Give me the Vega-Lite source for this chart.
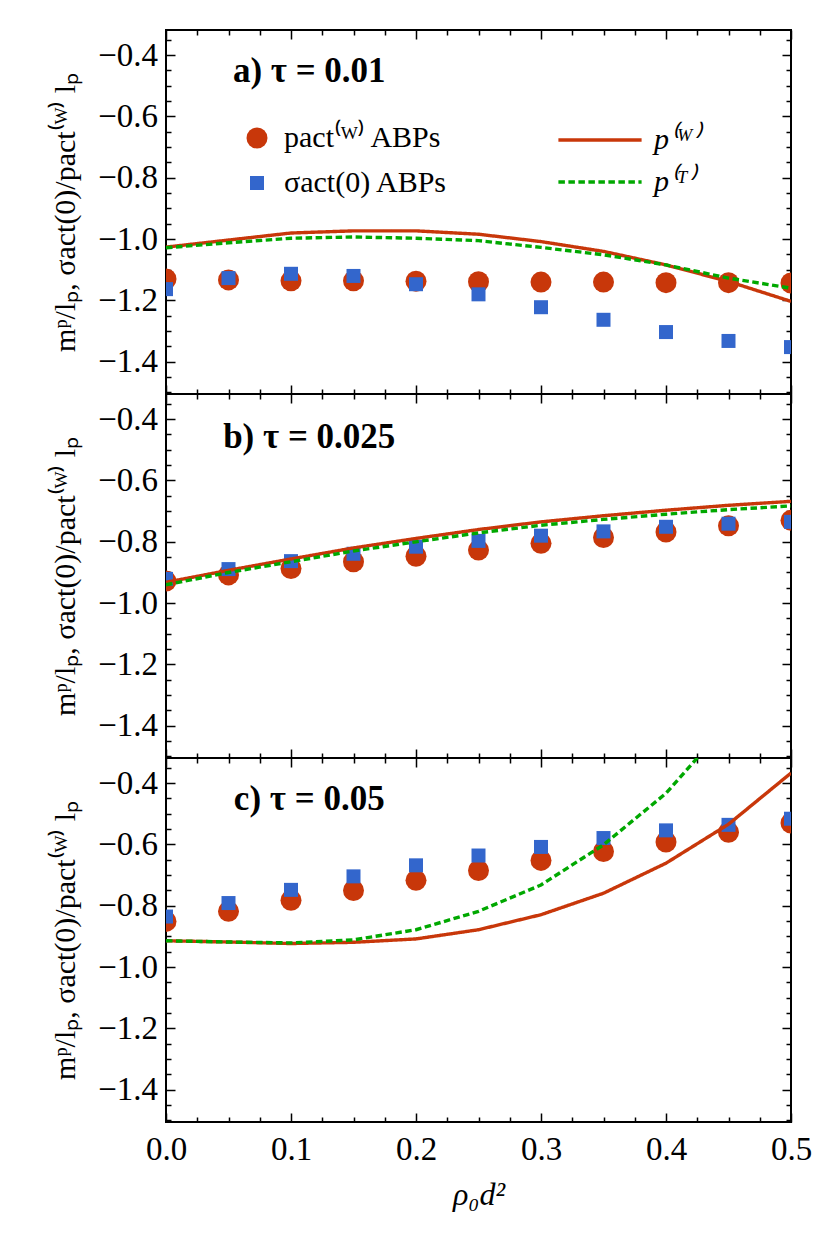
{
  "$schema": "https://vega.github.io/schema/vega-lite/v6.json",
  "autosize": {"type": "pad"},
  "padding": {"left": 49, "top": 22, "right": 40, "bottom": 20},
  "background": "white",
  "spacing": 0,
  "bounds": "flush",
  "config": {
    "view": {"stroke": "black", "strokeWidth": 2},
    "font": "Liberation Serif",
    "axis": {"domain": false, "grid": false, "tickColor": "black", "tickWidth": 1.5, "labelColor": "black", "titleColor": "black", "labelFont": "Liberation Serif", "titleFont": "Liberation Serif", "labelFontSize": 33, "titleFontSize": 30, "titleFontWeight": "normal", "labelFlush": false, "labelOverlap": false, "labelBound": false},
    "axisY": {"tickDash": {"condition": {"test": "round(abs(datum.value)*100) % 20 == 0", "value": [1, 0]}, "value": [5, 30]}},
    "axisX": {"tickDash": {"condition": {"test": "round(datum.value*1000) % 100 == 0", "value": [1, 0]}, "value": [5, 30]}},
    "legend": {"labelFont": "Liberation Serif", "labelColor": "black", "labelLimit": 0}
  },
  "datasets": {
    "pts": [
      {"panel": "a", "pt": "pact", "x": 0, "y": -1.130}, {"panel": "a", "pt": "pact", "x": 0.05, "y": -1.133}, {"panel": "a", "pt": "pact", "x": 0.1, "y": -1.136}, {"panel": "a", "pt": "pact", "x": 0.15, "y": -1.136}, {"panel": "a", "pt": "pact", "x": 0.2, "y": -1.137}, {"panel": "a", "pt": "pact", "x": 0.25, "y": -1.139}, {"panel": "a", "pt": "pact", "x": 0.3, "y": -1.140}, {"panel": "a", "pt": "pact", "x": 0.35, "y": -1.140}, {"panel": "a", "pt": "pact", "x": 0.4, "y": -1.142}, {"panel": "a", "pt": "pact", "x": 0.45, "y": -1.142}, {"panel": "a", "pt": "pact", "x": 0.5, "y": -1.143},
      {"panel": "a", "pt": "sigma", "x": 0, "y": -1.163}, {"panel": "a", "pt": "sigma", "x": 0.05, "y": -1.127}, {"panel": "a", "pt": "sigma", "x": 0.1, "y": -1.113}, {"panel": "a", "pt": "sigma", "x": 0.15, "y": -1.120}, {"panel": "a", "pt": "sigma", "x": 0.2, "y": -1.147}, {"panel": "a", "pt": "sigma", "x": 0.25, "y": -1.180}, {"panel": "a", "pt": "sigma", "x": 0.3, "y": -1.222}, {"panel": "a", "pt": "sigma", "x": 0.35, "y": -1.263}, {"panel": "a", "pt": "sigma", "x": 0.4, "y": -1.303}, {"panel": "a", "pt": "sigma", "x": 0.45, "y": -1.332}, {"panel": "a", "pt": "sigma", "x": 0.5, "y": -1.352},
      {"panel": "b", "pt": "pact", "x": 0, "y": -0.928}, {"panel": "b", "pt": "pact", "x": 0.05, "y": -0.908}, {"panel": "b", "pt": "pact", "x": 0.1, "y": -0.887}, {"panel": "b", "pt": "pact", "x": 0.15, "y": -0.865}, {"panel": "b", "pt": "pact", "x": 0.2, "y": -0.847}, {"panel": "b", "pt": "pact", "x": 0.25, "y": -0.827}, {"panel": "b", "pt": "pact", "x": 0.3, "y": -0.805}, {"panel": "b", "pt": "pact", "x": 0.35, "y": -0.786}, {"panel": "b", "pt": "pact", "x": 0.4, "y": -0.768}, {"panel": "b", "pt": "pact", "x": 0.45, "y": -0.748}, {"panel": "b", "pt": "pact", "x": 0.5, "y": -0.730},
      {"panel": "b", "pt": "sigma", "x": 0, "y": -0.921}, {"panel": "b", "pt": "sigma", "x": 0.05, "y": -0.889}, {"panel": "b", "pt": "sigma", "x": 0.1, "y": -0.863}, {"panel": "b", "pt": "sigma", "x": 0.15, "y": -0.839}, {"panel": "b", "pt": "sigma", "x": 0.2, "y": -0.816}, {"panel": "b", "pt": "sigma", "x": 0.25, "y": -0.797}, {"panel": "b", "pt": "sigma", "x": 0.3, "y": -0.780}, {"panel": "b", "pt": "sigma", "x": 0.35, "y": -0.766}, {"panel": "b", "pt": "sigma", "x": 0.4, "y": -0.751}, {"panel": "b", "pt": "sigma", "x": 0.45, "y": -0.741}, {"panel": "b", "pt": "sigma", "x": 0.5, "y": -0.735},
      {"panel": "c", "pt": "pact", "x": 0, "y": -0.851}, {"panel": "c", "pt": "pact", "x": 0.05, "y": -0.818}, {"panel": "c", "pt": "pact", "x": 0.1, "y": -0.782}, {"panel": "c", "pt": "pact", "x": 0.15, "y": -0.750}, {"panel": "c", "pt": "pact", "x": 0.2, "y": -0.717}, {"panel": "c", "pt": "pact", "x": 0.25, "y": -0.685}, {"panel": "c", "pt": "pact", "x": 0.3, "y": -0.652}, {"panel": "c", "pt": "pact", "x": 0.35, "y": -0.623}, {"panel": "c", "pt": "pact", "x": 0.4, "y": -0.592}, {"panel": "c", "pt": "pact", "x": 0.45, "y": -0.560}, {"panel": "c", "pt": "pact", "x": 0.5, "y": -0.530},
      {"panel": "c", "pt": "sigma", "x": 0, "y": -0.835}, {"panel": "c", "pt": "sigma", "x": 0.05, "y": -0.791}, {"panel": "c", "pt": "sigma", "x": 0.1, "y": -0.748}, {"panel": "c", "pt": "sigma", "x": 0.15, "y": -0.704}, {"panel": "c", "pt": "sigma", "x": 0.2, "y": -0.668}, {"panel": "c", "pt": "sigma", "x": 0.25, "y": -0.636}, {"panel": "c", "pt": "sigma", "x": 0.3, "y": -0.608}, {"panel": "c", "pt": "sigma", "x": 0.35, "y": -0.579}, {"panel": "c", "pt": "sigma", "x": 0.4, "y": -0.554}, {"panel": "c", "pt": "sigma", "x": 0.45, "y": -0.536}, {"panel": "c", "pt": "sigma", "x": 0.5, "y": -0.516}
    ],
    "lines": [
      {"panel": "a", "ln": "W", "x": 0, "y": -1.026}, {"panel": "a", "ln": "W", "x": 0.05, "y": -1.003}, {"panel": "a", "ln": "W", "x": 0.1, "y": -0.980}, {"panel": "a", "ln": "W", "x": 0.15, "y": -0.973}, {"panel": "a", "ln": "W", "x": 0.2, "y": -0.973}, {"panel": "a", "ln": "W", "x": 0.25, "y": -0.984}, {"panel": "a", "ln": "W", "x": 0.3, "y": -1.008}, {"panel": "a", "ln": "W", "x": 0.35, "y": -1.040}, {"panel": "a", "ln": "W", "x": 0.4, "y": -1.084}, {"panel": "a", "ln": "W", "x": 0.45, "y": -1.138}, {"panel": "a", "ln": "W", "x": 0.5, "y": -1.203},
      {"panel": "a", "ln": "T", "x": 0, "y": -1.028}, {"panel": "a", "ln": "T", "x": 0.05, "y": -1.012}, {"panel": "a", "ln": "T", "x": 0.1, "y": -0.997}, {"panel": "a", "ln": "T", "x": 0.15, "y": -0.993}, {"panel": "a", "ln": "T", "x": 0.2, "y": -0.997}, {"panel": "a", "ln": "T", "x": 0.25, "y": -1.005}, {"panel": "a", "ln": "T", "x": 0.3, "y": -1.027}, {"panel": "a", "ln": "T", "x": 0.35, "y": -1.051}, {"panel": "a", "ln": "T", "x": 0.4, "y": -1.084}, {"panel": "a", "ln": "T", "x": 0.45, "y": -1.127}, {"panel": "a", "ln": "T", "x": 0.5, "y": -1.160},
      {"panel": "b", "ln": "W", "x": 0, "y": -0.932}, {"panel": "b", "ln": "W", "x": 0.05, "y": -0.893}, {"panel": "b", "ln": "W", "x": 0.1, "y": -0.856}, {"panel": "b", "ln": "W", "x": 0.15, "y": -0.820}, {"panel": "b", "ln": "W", "x": 0.2, "y": -0.789}, {"panel": "b", "ln": "W", "x": 0.25, "y": -0.760}, {"panel": "b", "ln": "W", "x": 0.3, "y": -0.735}, {"panel": "b", "ln": "W", "x": 0.35, "y": -0.715}, {"panel": "b", "ln": "W", "x": 0.4, "y": -0.697}, {"panel": "b", "ln": "W", "x": 0.45, "y": -0.681}, {"panel": "b", "ln": "W", "x": 0.5, "y": -0.668},
      {"panel": "b", "ln": "T", "x": 0, "y": -0.940}, {"panel": "b", "ln": "T", "x": 0.05, "y": -0.900}, {"panel": "b", "ln": "T", "x": 0.1, "y": -0.865}, {"panel": "b", "ln": "T", "x": 0.15, "y": -0.830}, {"panel": "b", "ln": "T", "x": 0.2, "y": -0.800}, {"panel": "b", "ln": "T", "x": 0.25, "y": -0.771}, {"panel": "b", "ln": "T", "x": 0.3, "y": -0.746}, {"panel": "b", "ln": "T", "x": 0.35, "y": -0.727}, {"panel": "b", "ln": "T", "x": 0.4, "y": -0.710}, {"panel": "b", "ln": "T", "x": 0.45, "y": -0.695}, {"panel": "b", "ln": "T", "x": 0.5, "y": -0.683},
      {"panel": "c", "ln": "W", "x": 0, "y": -0.914}, {"panel": "c", "ln": "W", "x": 0.05, "y": -0.918}, {"panel": "c", "ln": "W", "x": 0.1, "y": -0.923}, {"panel": "c", "ln": "W", "x": 0.15, "y": -0.919}, {"panel": "c", "ln": "W", "x": 0.2, "y": -0.908}, {"panel": "c", "ln": "W", "x": 0.25, "y": -0.878}, {"panel": "c", "ln": "W", "x": 0.3, "y": -0.829}, {"panel": "c", "ln": "W", "x": 0.35, "y": -0.759}, {"panel": "c", "ln": "W", "x": 0.4, "y": -0.661}, {"panel": "c", "ln": "W", "x": 0.45, "y": -0.534}, {"panel": "c", "ln": "W", "x": 0.5, "y": -0.367},
      {"panel": "c", "ln": "T", "x": 0, "y": -0.914}, {"panel": "c", "ln": "T", "x": 0.05, "y": -0.918}, {"panel": "c", "ln": "T", "x": 0.1, "y": -0.921}, {"panel": "c", "ln": "T", "x": 0.15, "y": -0.911}, {"panel": "c", "ln": "T", "x": 0.2, "y": -0.878}, {"panel": "c", "ln": "T", "x": 0.25, "y": -0.818}, {"panel": "c", "ln": "T", "x": 0.3, "y": -0.732}, {"panel": "c", "ln": "T", "x": 0.35, "y": -0.601}, {"panel": "c", "ln": "T", "x": 0.4, "y": -0.433}, {"panel": "c", "ln": "T", "x": 0.45, "y": -0.203}, {"panel": "c", "ln": "T", "x": 0.5, "y": 0.08}
    ]
  },
  "resolve": {"scale": {"fill": "independent", "shape": "independent", "size": "independent", "stroke": "independent", "strokeDash": "independent"}},
  "vconcat": [
    {
      "width": 625, "height": 364,
      "layer": [
        {
          "data": {"name": "pts"},
          "transform": [{"filter": "datum.panel == 'a'"}],
          "mark": {"type": "point", "filled": true, "opacity": 1, "clip": true, "strokeWidth": 0},
          "encoding": {
            "x": {"field": "x", "type": "quantitative", "scale": {"domain": [0, 0.5], "nice": false, "zero": false},
              "axis": {"orient": "bottom", "values": [0,0.025,0.05,0.075,0.1,0.125,0.15,0.175,0.2,0.225,0.25,0.275,0.3,0.325,0.35,0.375,0.4,0.425,0.45,0.475,0.5], "tickSize": -9, "labels": false, "title": null}},
            "y": {"field": "y", "type": "quantitative", "scale": {"domain": [-1.505, -0.318], "nice": false, "zero": false},
              "axis": {"orient": "left", "values": [-1.5,-1.45,-1.4,-1.35,-1.3,-1.25,-1.2,-1.15,-1.1,-1.05,-1,-0.95,-0.9,-0.85,-0.8,-0.75,-0.7,-0.65,-0.6,-0.55,-0.5,-0.45,-0.4,-0.35], "tickSize": -9, "labelExpr": "round(abs(datum.value)*100) % 20 == 0 ? format(datum.value, '.1f') : ''", "labelPadding": 17.5, "title": "mᵖ/lₚ,  σact(0)/pact⁽ᵂ⁾ lₚ", "titlePadding": 17}},
            "fill": {"field": "pt", "type": "nominal", "scale": {"domain": ["pact", "sigma"], "range": ["#c8370a", "#3366cc"]},
              "legend": {"orient": "none", "legendX": 76, "legendY": 93, "direction": "vertical", "title": null, "padding": 0, "labelExpr": "datum.label == 'pact' ? 'pact⁽ᵂ⁾ ABPs' : 'σact(0) ABPs'", "labelFontSize": 30, "labelOffset": 12, "rowPadding": 15}},
            "shape": {"field": "pt", "type": "nominal", "scale": {"domain": ["pact", "sigma"], "range": ["circle", "square"]},
              "legend": {"orient": "none", "legendX": 76, "legendY": 93, "direction": "vertical", "title": null, "padding": 0, "labelExpr": "datum.label == 'pact' ? 'pact⁽ᵂ⁾ ABPs' : 'σact(0) ABPs'", "labelFontSize": 30, "labelOffset": 12, "rowPadding": 15}},
            "size": {"field": "pt", "type": "nominal", "scale": {"type": "point", "domain": ["pact", "sigma"], "range": [441, 196]},
              "legend": {"orient": "none", "legendX": 76, "legendY": 93, "direction": "vertical", "title": null, "padding": 0, "labelExpr": "datum.label == 'pact' ? 'pact⁽ᵂ⁾ ABPs' : 'σact(0) ABPs'", "labelFontSize": 30, "labelOffset": 12, "rowPadding": 15}}
          }
        },
        {
          "data": {"name": "lines"},
          "transform": [{"filter": "datum.panel == 'a'"}],
          "mark": {"type": "line", "clip": true, "strokeWidth": 3.4},
          "encoding": {
            "x": {"field": "x", "type": "quantitative", "scale": {"domain": [0, 0.5], "nice": false, "zero": false},
              "axis": {"orient": "top", "values": [0,0.025,0.05,0.075,0.1,0.125,0.15,0.175,0.2,0.225,0.25,0.275,0.3,0.325,0.35,0.375,0.4,0.425,0.45,0.475,0.5], "tickSize": -9, "labels": false, "title": null}},
            "y": {"field": "y", "type": "quantitative", "scale": {"domain": [-1.505, -0.318], "nice": false, "zero": false},
              "axis": {"orient": "right", "values": [-1.5,-1.45,-1.4,-1.35,-1.3,-1.25,-1.2,-1.15,-1.1,-1.05,-1,-0.95,-0.9,-0.85,-0.8,-0.75,-0.7,-0.65,-0.6,-0.55,-0.5,-0.45,-0.4,-0.35], "tickSize": -9, "labels": false, "title": null}},
            "stroke": {"field": "ln", "type": "nominal", "scale": {"domain": ["W", "T"], "range": ["#c8370a", "#00a800"]},
              "legend": {"orient": "none", "legendX": 416, "legendY": 92, "direction": "vertical", "title": null, "padding": 0, "symbolType": "M-2.6,0H2.6", "symbolSize": 1024, "symbolStrokeWidth": 3.6, "labelExpr": "datum.label == 'W' ? 'p⁽ᵂ⁾' : 'p⁽ᵀ⁾'", "labelFontSize": 30, "labelFontStyle": "italic", "labelOffset": 36, "rowPadding": 9}},
            "strokeDash": {"field": "ln", "type": "nominal", "scale": {"domain": ["W", "T"], "range": [[1, 0], [6.5, 3.5]]},
              "legend": {"orient": "none", "legendX": 416, "legendY": 92, "direction": "vertical", "title": null, "padding": 0, "symbolType": "M-2.6,0H2.6", "symbolSize": 1024, "symbolStrokeWidth": 3.6, "labelExpr": "datum.label == 'W' ? 'p⁽ᵂ⁾' : 'p⁽ᵀ⁾'", "labelFontSize": 30, "labelFontStyle": "italic", "labelOffset": 36, "rowPadding": 9}}
          }
        },
        {
          "data": {"values": [{}]},
          "mark": {"type": "text", "font": "Liberation Serif", "fontSize": 35, "fontWeight": "bold", "align": "center", "baseline": "alphabetic", "color": "black"},
          "encoding": {
            "x": {"datum": 0.1146, "type": "quantitative", "axis": null},
            "y": {"datum": -0.4875, "type": "quantitative", "axis": null},
            "text": {"value": "a)  τ = 0.01"}
          }
        }
      ],
      "resolve": {"axis": {"x": "independent", "y": "independent"}}
    },
    {
      "width": 625, "height": 364,
      "layer": [
        {
          "data": {"name": "pts"},
          "transform": [{"filter": "datum.panel == 'b'"}],
          "mark": {"type": "point", "filled": true, "opacity": 1, "clip": true, "strokeWidth": 0},
          "encoding": {
            "x": {"field": "x", "type": "quantitative", "scale": {"domain": [0, 0.5], "nice": false, "zero": false},
              "axis": {"orient": "bottom", "values": [0,0.025,0.05,0.075,0.1,0.125,0.15,0.175,0.2,0.225,0.25,0.275,0.3,0.325,0.35,0.375,0.4,0.425,0.45,0.475,0.5], "tickSize": -9, "labels": false, "title": null}},
            "y": {"field": "y", "type": "quantitative", "scale": {"domain": [-1.505, -0.318], "nice": false, "zero": false},
              "axis": {"orient": "left", "values": [-1.5,-1.45,-1.4,-1.35,-1.3,-1.25,-1.2,-1.15,-1.1,-1.05,-1,-0.95,-0.9,-0.85,-0.8,-0.75,-0.7,-0.65,-0.6,-0.55,-0.5,-0.45,-0.4,-0.35], "tickSize": -9, "labelExpr": "round(abs(datum.value)*100) % 20 == 0 ? format(datum.value, '.1f') : ''", "labelPadding": 17.5, "title": "mᵖ/lₚ,  σact(0)/pact⁽ᵂ⁾ lₚ", "titlePadding": 17}},
            "fill": {"field": "pt", "type": "nominal", "scale": {"domain": ["pact", "sigma"], "range": ["#c8370a", "#3366cc"]}, "legend": null},
            "shape": {"field": "pt", "type": "nominal", "scale": {"domain": ["pact", "sigma"], "range": ["circle", "square"]}, "legend": null},
            "size": {"field": "pt", "type": "nominal", "scale": {"type": "point", "domain": ["pact", "sigma"], "range": [441, 196]}, "legend": null}
          }
        },
        {
          "data": {"name": "lines"},
          "transform": [{"filter": "datum.panel == 'b'"}],
          "mark": {"type": "line", "clip": true, "strokeWidth": 3.4},
          "encoding": {
            "x": {"field": "x", "type": "quantitative", "scale": {"domain": [0, 0.5], "nice": false, "zero": false},
              "axis": {"orient": "top", "values": [0,0.025,0.05,0.075,0.1,0.125,0.15,0.175,0.2,0.225,0.25,0.275,0.3,0.325,0.35,0.375,0.4,0.425,0.45,0.475,0.5], "tickSize": -9, "labels": false, "title": null}},
            "y": {"field": "y", "type": "quantitative", "scale": {"domain": [-1.505, -0.318], "nice": false, "zero": false},
              "axis": {"orient": "right", "values": [-1.5,-1.45,-1.4,-1.35,-1.3,-1.25,-1.2,-1.15,-1.1,-1.05,-1,-0.95,-0.9,-0.85,-0.8,-0.75,-0.7,-0.65,-0.6,-0.55,-0.5,-0.45,-0.4,-0.35], "tickSize": -9, "labels": false, "title": null}},
            "stroke": {"field": "ln", "type": "nominal", "scale": {"domain": ["W", "T"], "range": ["#c8370a", "#00a800"]}, "legend": null},
            "strokeDash": {"field": "ln", "type": "nominal", "scale": {"domain": ["W", "T"], "range": [[1, 0], [6.5, 3.5]]}, "legend": null}
          }
        },
        {
          "data": {"values": [{}]},
          "mark": {"type": "text", "font": "Liberation Serif", "fontSize": 35, "fontWeight": "bold", "align": "center", "baseline": "alphabetic", "color": "black"},
          "encoding": {
            "x": {"datum": 0.1146, "type": "quantitative", "axis": null},
            "y": {"datum": -0.494, "type": "quantitative", "axis": null},
            "text": {"value": "b)  τ = 0.025"}
          }
        }
      ],
      "resolve": {"axis": {"x": "independent", "y": "independent"}}
    },
    {
      "width": 625, "height": 364,
      "layer": [
        {
          "data": {"name": "pts"},
          "transform": [{"filter": "datum.panel == 'c'"}],
          "mark": {"type": "point", "filled": true, "opacity": 1, "clip": true, "strokeWidth": 0},
          "encoding": {
            "x": {"field": "x", "type": "quantitative", "scale": {"domain": [0, 0.5], "nice": false, "zero": false},
              "axis": {"orient": "bottom", "values": [0,0.025,0.05,0.075,0.1,0.125,0.15,0.175,0.2,0.225,0.25,0.275,0.3,0.325,0.35,0.375,0.4,0.425,0.45,0.475,0.5], "tickSize": -9, "labelExpr": "round(datum.value*1000) % 100 == 0 ? format(datum.value, '.1f') : ''", "labelPadding": 20, "title": "ρ₀d²", "titleFontStyle": "italic", "titleFontSize": 32, "titlePadding": 13}},
            "y": {"field": "y", "type": "quantitative", "scale": {"domain": [-1.505, -0.318], "nice": false, "zero": false},
              "axis": {"orient": "left", "values": [-1.5,-1.45,-1.4,-1.35,-1.3,-1.25,-1.2,-1.15,-1.1,-1.05,-1,-0.95,-0.9,-0.85,-0.8,-0.75,-0.7,-0.65,-0.6,-0.55,-0.5,-0.45,-0.4,-0.35], "tickSize": -9, "labelExpr": "round(abs(datum.value)*100) % 20 == 0 ? format(datum.value, '.1f') : ''", "labelPadding": 17.5, "title": "mᵖ/lₚ,  σact(0)/pact⁽ᵂ⁾ lₚ", "titlePadding": 17}},
            "fill": {"field": "pt", "type": "nominal", "scale": {"domain": ["pact", "sigma"], "range": ["#c8370a", "#3366cc"]}, "legend": null},
            "shape": {"field": "pt", "type": "nominal", "scale": {"domain": ["pact", "sigma"], "range": ["circle", "square"]}, "legend": null},
            "size": {"field": "pt", "type": "nominal", "scale": {"type": "point", "domain": ["pact", "sigma"], "range": [441, 196]}, "legend": null}
          }
        },
        {
          "data": {"name": "lines"},
          "transform": [{"filter": "datum.panel == 'c'"}],
          "mark": {"type": "line", "clip": true, "strokeWidth": 3.4},
          "encoding": {
            "x": {"field": "x", "type": "quantitative", "scale": {"domain": [0, 0.5], "nice": false, "zero": false},
              "axis": {"orient": "top", "values": [0,0.025,0.05,0.075,0.1,0.125,0.15,0.175,0.2,0.225,0.25,0.275,0.3,0.325,0.35,0.375,0.4,0.425,0.45,0.475,0.5], "tickSize": -9, "labels": false, "title": null}},
            "y": {"field": "y", "type": "quantitative", "scale": {"domain": [-1.505, -0.318], "nice": false, "zero": false},
              "axis": {"orient": "right", "values": [-1.5,-1.45,-1.4,-1.35,-1.3,-1.25,-1.2,-1.15,-1.1,-1.05,-1,-0.95,-0.9,-0.85,-0.8,-0.75,-0.7,-0.65,-0.6,-0.55,-0.5,-0.45,-0.4,-0.35], "tickSize": -9, "labels": false, "title": null}},
            "stroke": {"field": "ln", "type": "nominal", "scale": {"domain": ["W", "T"], "range": ["#c8370a", "#00a800"]}, "legend": null},
            "strokeDash": {"field": "ln", "type": "nominal", "scale": {"domain": ["W", "T"], "range": [[1, 0], [6.5, 3.5]]}, "legend": null}
          }
        },
        {
          "data": {"values": [{}]},
          "mark": {"type": "text", "font": "Liberation Serif", "fontSize": 35, "fontWeight": "bold", "align": "center", "baseline": "alphabetic", "color": "black"},
          "encoding": {
            "x": {"datum": 0.1146, "type": "quantitative", "axis": null},
            "y": {"datum": -0.4875, "type": "quantitative", "axis": null},
            "text": {"value": "c)  τ = 0.05"}
          }
        }
      ],
      "resolve": {"axis": {"x": "independent", "y": "independent"}}
    }
  ]
}
